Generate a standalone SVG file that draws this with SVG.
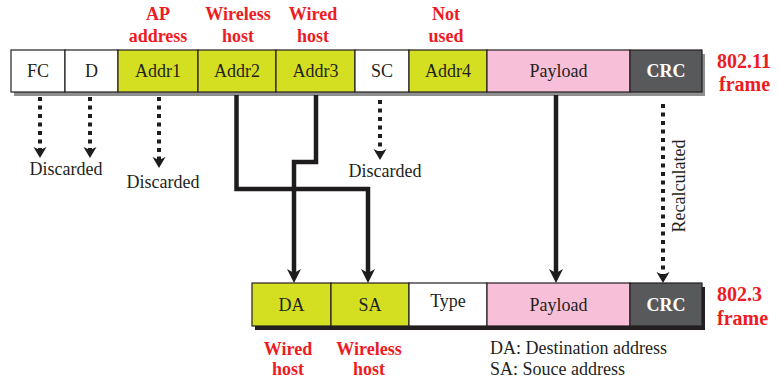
<svg xmlns="http://www.w3.org/2000/svg" width="779" height="380" viewBox="0 0 779 380">
<defs>
<style>
.cell{stroke:#231f20;stroke-width:1.2}
.w{fill:#ffffff}.y{fill:#d5df22}.p{fill:#f7bfd8}.g{fill:#58595b}
.t{font-family:"Liberation Serif",serif;font-size:18px;fill:#231f20;text-anchor:middle}
.tw{font-family:"Liberation Serif",serif;font-size:18px;font-weight:bold;fill:#ffffff;text-anchor:middle}
.r{font-family:"Liberation Serif",serif;font-size:18px;font-weight:bold;fill:#ed1c24;text-anchor:middle}
.rf{font-family:"Liberation Serif",serif;font-size:20px;font-weight:bold;fill:#ed1c24}
.solid{fill:none;stroke:#1f1c1d;stroke-width:4.5;stroke-linejoin:miter;marker-end:url(#ah)}
.dot{fill:none;stroke:#1f1c1d;stroke-width:4;stroke-dasharray:4 4.5;marker-end:url(#dh)}
</style>
<marker id="ah" markerUnits="userSpaceOnUse" markerWidth="20" markerHeight="20" refX="5" refY="0" orient="auto" overflow="visible">
<path d="M0,-7 L14,0 L0,7 L4,0 Z" fill="#1f1c1d"/>
</marker>
<marker id="dh" markerUnits="userSpaceOnUse" markerWidth="20" markerHeight="20" refX="3" refY="0" orient="auto" overflow="visible">
<path d="M0,-6.5 L11,0 L0,6.5 L3,0 Z" fill="#1f1c1d"/>
</marker>
</defs>
<rect width="779" height="380" fill="#ffffff"/>

<!-- top labels -->
<g id="top-labels">
<text class="r" x="158" y="20">AP</text><text class="r" x="158" y="42">address</text>
<text class="r" x="238" y="20">Wireless</text><text class="r" x="238" y="42">host</text>
<text class="r" x="313" y="20">Wired</text><text class="r" x="313" y="42">host</text>
<text class="r" x="446" y="20">Not</text><text class="r" x="446" y="42">used</text>
</g>

<!-- 802.11 frame -->
<g id="frame80211">
<rect x="14" y="54" width="691" height="42" fill="#8f8f8f"/>
<g id="fc"><rect class="cell w" x="11" y="50" width="54" height="42"/><text class="t" x="38" y="77">FC</text></g>
<g id="d"><rect class="cell w" x="65" y="50" width="53" height="42"/><text class="t" x="91.5" y="77">D</text></g>
<g id="addr1"><rect class="cell y" x="118" y="50" width="80" height="42"/><text class="t" x="158" y="77">Addr1</text></g>
<g id="addr2"><rect class="cell y" x="198" y="50" width="78" height="42"/><text class="t" x="237" y="77">Addr2</text></g>
<g id="addr3"><rect class="cell y" x="276" y="50" width="79" height="42"/><text class="t" x="315.5" y="77">Addr3</text></g>
<g id="sc"><rect class="cell w" x="355" y="50" width="54" height="42"/><text class="t" x="382" y="77">SC</text></g>
<g id="addr4"><rect class="cell y" x="409" y="50" width="78" height="42"/><text class="t" x="448" y="77">Addr4</text></g>
<g id="payload1"><rect class="cell p" x="487" y="50" width="143" height="42"/><text class="t" x="558.5" y="77">Payload</text></g>
<g id="crc1"><rect class="cell g" x="630" y="50" width="72" height="42"/><text class="tw" x="666" y="77">CRC</text></g>
<text class="rf" x="717" y="68">802.11</text><text class="rf" x="719" y="91">frame</text>
</g>

<!-- 802.3 frame -->
<g id="frame8023">
<rect x="255" y="287" width="450" height="43" fill="#231f20"/>
<g id="da"><rect class="cell y" x="252" y="283" width="79" height="43"/><text class="t" x="291.5" y="311">DA</text></g>
<g id="sa"><rect class="cell y" x="331" y="283" width="78" height="43"/><text class="t" x="370" y="311">SA</text></g>
<g id="type"><rect class="cell w" x="409" y="283" width="78" height="43"/><text class="t" x="448" y="307">Type</text></g>
<g id="payload2"><rect class="cell p" x="487" y="283" width="143" height="43"/><text class="t" x="558.5" y="311">Payload</text></g>
<g id="crc2"><rect class="cell g" x="630" y="283" width="72" height="43"/><text class="tw" x="666" y="311">CRC</text></g>
<text class="rf" x="717" y="301">802.3</text><text class="rf" x="717" y="325">frame</text>
</g>

<!-- connectors -->
<g id="connectors">
<path class="dot" d="M40,97 V150"/>
<path class="dot" d="M90,97 V150"/>
<path class="dot" d="M159,97 V160"/>
<path class="dot" d="M380,100 V152"/>
<path class="dot" d="M663,104 V275"/>
<path class="solid" d="M236.5,95 V189 H368 V274"/>
<path class="solid" d="M316,95 V162 H294 V274"/>
<path class="solid" d="M556,95 V274"/>
</g>

<!-- annotations -->
<g id="annotations">
<text class="t" x="66" y="175">Discarded</text>
<text class="t" x="163" y="188">Discarded</text>
<text class="t" x="385" y="177">Discarded</text>
<text class="t" transform="translate(685,186) rotate(-90)">Recalculated</text>
<text class="r" x="288" y="355">Wired</text><text class="r" x="288" y="375">host</text>
<text class="r" x="369" y="355">Wireless</text><text class="r" x="369" y="375">host</text>
<text class="t" x="490" y="354" style="text-anchor:start">DA: Destination address</text>
<text class="t" x="490" y="375" style="text-anchor:start">SA: Souce address</text>
</g>
</svg>
